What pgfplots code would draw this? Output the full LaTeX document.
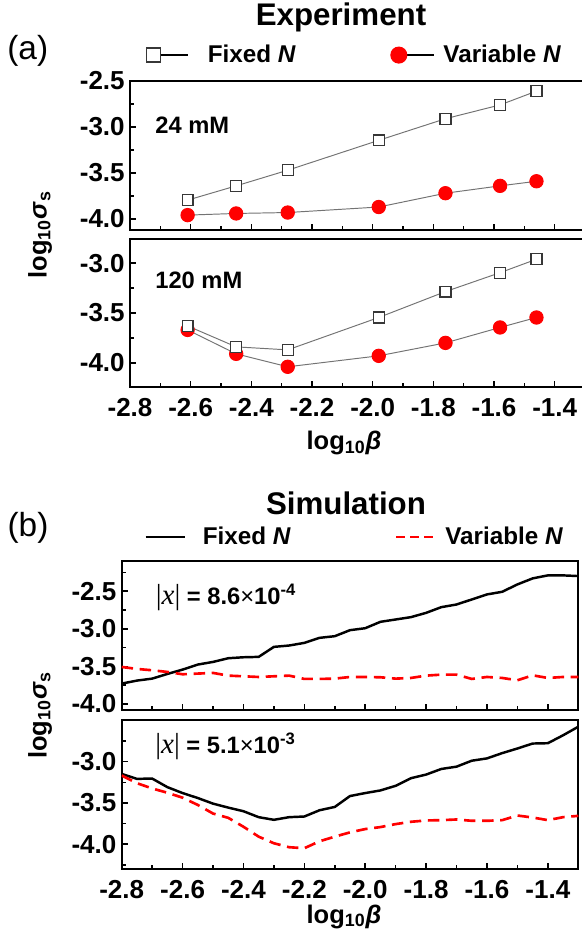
\documentclass[border=0pt]{standalone}
\usepackage{fontspec}
\setmainfont{Liberation Sans}
\newfontfamily\serifx{Liberation Serif}
\newfontfamily\serifxi{Liberation Serif Italic}
\usepackage{pgfplots}
\pgfplotsset{compat=1.18}
\definecolor{linegray}{RGB}{115,115,115}
\definecolor{markgray}{RGB}{55,55,55}
\pgfplotsset{
  base/.style={
    scale only axis, anchor=south west,
    axis line style={line width=1.2pt},
    every tick/.style={black, line width=0.9pt},
    tick align=inside, xtick pos=bottom, ytick pos=left,
    xmin=-2.8, xmax=-1.3,
    xtick={-2.8,-2.6,-2.4,-2.2,-2.0,-1.8,-1.6,-1.4},
    minor xtick={-2.7,-2.5,-2.3,-2.1,-1.9,-1.7,-1.5,-1.3},
    ticklabel style={font=\fontsize{14.8}{17}\selectfont\bfseries,
      /pgf/number format/fixed, /pgf/number format/fixed zerofill,
      /pgf/number format/precision=1, /pgf/number format/assume math mode=true},
    xticklabel style={yshift=-3pt},
    yticklabel style={xshift=0.5pt},
    legend columns=2,
    legend cell align=left,
  },
  legA/.style={
    legend image code/.code={\draw[mark repeat=2,mark phase=1,##1] plot coordinates {(0cm,0cm) (0.7cm,0cm)};},
    legend style={draw=none, fill=none, inner sep=0pt, at={(0.035,1.174)}, anchor=west,
      nodes={inner sep=0pt, font=\fontsize{13.8}{16}\selectfont\bfseries},
      /tikz/column 1/.style={column sep=0.38cm},
      /tikz/column 2/.style={column sep=1.9cm},
      /tikz/column 3/.style={column sep=0.18cm}},
  },
  legB/.style={
    legend image code/.code={\draw[##1] (0cm,0cm) -- (0.78cm,0cm);},
    legend style={draw=none, fill=none, inner sep=0pt, at={(0.049,1.161)}, anchor=west,
      nodes={inner sep=0pt, font=\fontsize{13.8}{16}\selectfont\bfseries},
      /tikz/column 1/.style={column sep=0.34cm},
      /tikz/column 2/.style={column sep=2.08cm},
      /tikz/column 3/.style={column sep=0.18cm}},
  },
  fixA/.style={linegray, line width=0.55pt, mark=square*, mark size=3.1pt,
    mark options={draw=markgray, fill=white, line width=0.7pt}},
  varA/.style={linegray, line width=0.55pt, mark=*, mark size=3.8pt,
    mark options={draw=red, fill=red}},
}
\begin{document}
\begin{tikzpicture}
% ---------------- (a) top: 24 mM
\begin{axis}[base, legA, at={(2.60cm,-4.60cm)}, width=9.10cm, height=2.98cm,
  ymin=-4.12, ymax=-2.5, ytick={-4,-3.5,-3,-2.5}, minor ytick={-3.75,-3.25,-2.75},
  xticklabel=\empty, major tick length=3.2pt, minor tick length=2pt]
\addlegendimage{black, line width=0.7pt, mark=square*, mark size=4.0pt, mark options={draw=markgray, fill=white, line width=0.8pt}}
\addlegendentry{Fixed \textit{N}}
\addlegendimage{black, line width=0.7pt, mark=*, mark size=4.5pt, mark options={draw=red, fill=red}}
\addlegendentry{Variable \textit{N}}
\addplot[forget plot, varA] coordinates {(-2.61,-3.958) (-2.45,-3.94) (-2.28,-3.93) (-1.98,-3.87) (-1.76,-3.72) (-1.58,-3.64) (-1.46,-3.59)};
\addplot[forget plot, fixA] coordinates {(-2.61,-3.795) (-2.45,-3.64) (-2.28,-3.47) (-1.98,-3.145) (-1.76,-2.91) (-1.58,-2.76) (-1.46,-2.61)};
\end{axis}
% ---------------- (a) bottom: 120 mM
\begin{axis}[base, at={(2.60cm,-7.734cm)}, width=9.10cm, height=2.948cm,
  ymin=-4.24, ymax=-2.76, ytick={-4,-3.5,-3}, minor ytick={-3.75,-3.25},
  major tick length=3.2pt, minor tick length=2pt]
\addplot[varA] coordinates {(-2.61,-3.67) (-2.45,-3.91) (-2.28,-4.04) (-1.98,-3.93) (-1.76,-3.80) (-1.58,-3.645) (-1.46,-3.545)};
\addplot[fixA] coordinates {(-2.61,-3.63) (-2.45,-3.84) (-2.28,-3.87) (-1.98,-3.545) (-1.76,-3.285) (-1.58,-3.095) (-1.46,-2.96)};
\end{axis}
% ---------------- (b) top
\begin{axis}[base, legB, at={(2.434cm,-14.20cm)}, width=9.132cm, height=2.98cm,
  ymin=-4.08, ymax=-2.10, ytick={-4,-3.5,-3,-2.5}, minor ytick={-3.75,-3.25,-2.75,-2.25},
  xticklabel=\empty, major tick length=3.6pt, minor tick length=2.2pt]
\addlegendimage{black, line width=1.4pt}
\addlegendentry{Fixed \textit{N}}
\addlegendimage{red, line width=1.4pt, dash pattern=on 5pt off 3pt}
\addlegendentry{Variable \textit{N}}
\addplot[forget plot, black, line width=1.4pt] table {
x y
-2.80 -3.729
-2.75 -3.689
-2.70 -3.663
-2.65 -3.601
-2.60 -3.543
-2.55 -3.476
-2.50 -3.441
-2.45 -3.392
-2.40 -3.379
-2.35 -3.374
-2.30 -3.241
-2.25 -3.223
-2.20 -3.188
-2.15 -3.121
-2.10 -3.099
-2.05 -3.019
-2.00 -2.993
-1.95 -2.908
-1.90 -2.877
-1.85 -2.846
-1.80 -2.789
-1.75 -2.713
-1.70 -2.678
-1.65 -2.611
-1.60 -2.544
-1.55 -2.509
-1.50 -2.411
-1.45 -2.331
-1.40 -2.291
-1.35 -2.291
-1.30 -2.300
};
\addplot[forget plot, red, line width=1.5pt, dash pattern=on 6.5pt off 3.8pt] table {
x y
-2.80 -3.508
-2.75 -3.534
-2.70 -3.552
-2.65 -3.574
-2.60 -3.605
-2.55 -3.596
-2.50 -3.587
-2.45 -3.623
-2.40 -3.632
-2.35 -3.641
-2.30 -3.632
-2.25 -3.623
-2.20 -3.667
-2.15 -3.667
-2.10 -3.663
-2.05 -3.641
-2.00 -3.641
-1.95 -3.645
-1.90 -3.663
-1.85 -3.654
-1.80 -3.623
-1.75 -3.610
-1.70 -3.610
-1.65 -3.667
-1.60 -3.641
-1.55 -3.654
-1.50 -3.685
-1.45 -3.619
-1.40 -3.654
-1.35 -3.641
-1.30 -3.641
};
\end{axis}
% ---------------- (b) bottom
\begin{axis}[base, at={(2.434cm,-17.38cm)}, width=9.132cm, height=2.98cm,
  ymin=-4.30, ymax=-2.495, ytick={-4,-3.5,-3}, minor ytick={-4.25,-3.75,-3.25,-2.75},
  major tick length=3.6pt, minor tick length=2.2pt]
\addplot[black, line width=1.4pt] table {
x y
-2.80 -3.148
-2.75 -3.208
-2.70 -3.204
-2.65 -3.308
-2.60 -3.380
-2.55 -3.440
-2.50 -3.508
-2.45 -3.556
-2.40 -3.600
-2.35 -3.672
-2.30 -3.704
-2.25 -3.672
-2.20 -3.664
-2.15 -3.588
-2.10 -3.548
-2.05 -3.416
-2.00 -3.380
-1.95 -3.348
-1.90 -3.292
-1.85 -3.200
-1.80 -3.156
-1.75 -3.088
-1.70 -3.060
-1.65 -2.988
-1.60 -2.960
-1.55 -2.896
-1.50 -2.840
-1.45 -2.780
-1.40 -2.776
-1.35 -2.680
-1.30 -2.576
};
\addplot[red, line width=1.5pt, dash pattern=on 6.5pt off 3.8pt] table {
x y
-2.80 -3.168
-2.75 -3.260
-2.70 -3.324
-2.65 -3.376
-2.60 -3.436
-2.55 -3.524
-2.50 -3.628
-2.45 -3.680
-2.40 -3.788
-2.35 -3.908
-2.30 -3.988
-2.25 -4.036
-2.20 -4.048
-2.15 -3.964
-2.10 -3.908
-2.05 -3.856
-2.00 -3.816
-1.95 -3.792
-1.90 -3.756
-1.85 -3.728
-1.80 -3.712
-1.75 -3.708
-1.70 -3.700
-1.65 -3.716
-1.60 -3.716
-1.55 -3.708
-1.50 -3.652
-1.45 -3.676
-1.40 -3.708
-1.35 -3.672
-1.30 -3.656
};
\end{axis}
% ---------------- texts
\node[font=\fontsize{17.8}{20}\selectfont\bfseries] at (6.82cm,-0.34cm) {Experiment};
\node[font=\fontsize{19}{22}\selectfont] at (0.555cm,-1.02cm) {(a)};
\node[font=\fontsize{17.8}{20}\selectfont\bfseries] at (6.92cm,-10.06cm) {Simulation};
\node[font=\fontsize{19}{22}\selectfont] at (0.56cm,-10.56cm) {(b)};
\node[anchor=west, inner sep=0pt, font=\fontsize{13.5}{15}\selectfont\bfseries] at (3.10cm,-2.50cm) {24 mM};
\node[anchor=west, inner sep=0pt, font=\fontsize{13.5}{15}\selectfont\bfseries] at (3.10cm,-5.60cm) {120 mM};
\node[anchor=west, inner sep=0pt, font=\fontsize{13.5}{15}\selectfont\bfseries] at (3.11cm,-11.95cm) {{\fontsize{16.5}{18}\selectfont\serifx\mdseries|{\serifxi x}|} = 8.6{\mdseries ×}10\textsuperscript{-4}};
\node[anchor=west, inner sep=0pt, font=\fontsize{13.5}{15}\selectfont\bfseries] at (3.10cm,-14.93cm) {{\fontsize{16.5}{18}\selectfont\serifx\mdseries|{\serifxi x}|} = 5.1{\mdseries ×}10\textsuperscript{-3}};
\node[rotate=90, font=\fontsize{14.5}{16}\selectfont\bfseries] at (0.80cm,-4.69cm) {log\textsubscript{10}\textit{σ}\textsubscript{s}};
\node[rotate=90, font=\fontsize{14.5}{16}\selectfont\bfseries] at (0.80cm,-14.30cm) {log\textsubscript{10}\textit{σ}\textsubscript{s}};
\node[font=\fontsize{14.5}{16}\selectfont\bfseries] at (6.88cm,-8.86cm) {log\textsubscript{10}\textit{β}};
\node[font=\fontsize{14.5}{16}\selectfont\bfseries] at (6.88cm,-18.33cm) {log\textsubscript{10}\textit{β}};
\pgfresetboundingbox
\path[use as bounding box] (0,0) rectangle (11.62cm,-18.72cm);
\end{tikzpicture}
\end{document}
